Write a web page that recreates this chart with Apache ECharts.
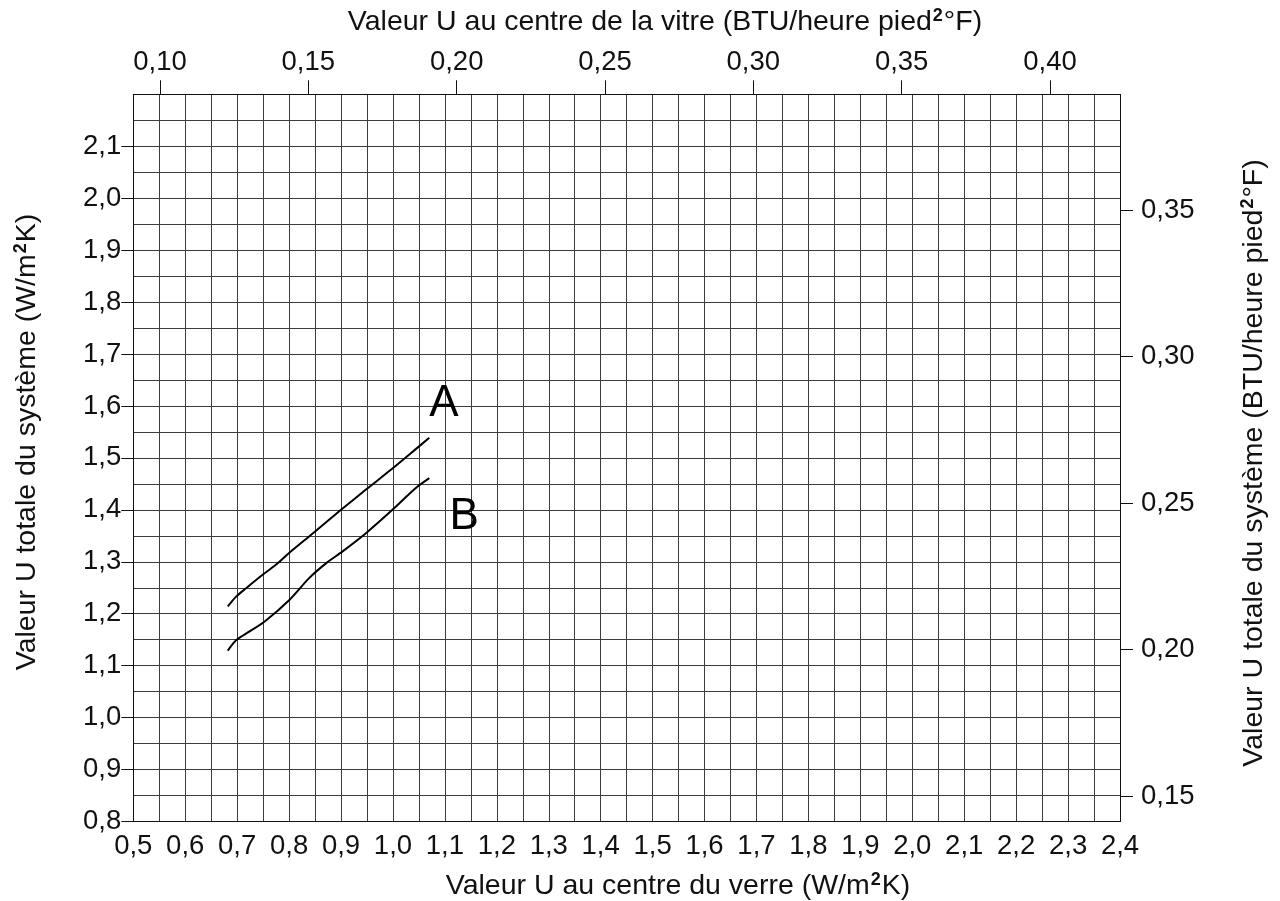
<!DOCTYPE html>
<html>
<head>
<meta charset="utf-8">
<script src="https://cdn.jsdelivr.net/npm/echarts@6/dist/echarts.min.js"></script>
<style>
  html, body { margin: 0; padding: 0; background: #fff; }
  #chart { width: 1280px; height: 901px; }
</style>
</head>
<body>
<div id="chart"></div>
<script>
// centre-of-glass U (W/m²K) vs total system U (W/m²K)
const curveA = [
  [0.682, 1.214], [0.698, 1.233], [0.717, 1.249], [0.749, 1.275],
  [0.778, 1.297], [0.801, 1.318], [0.846, 1.355], [0.900, 1.400],
  [0.948, 1.439], [0.996, 1.477], [1.031, 1.506], [1.070, 1.539],
]
const curveB = [
  [0.682, 1.129], [0.698, 1.149], [0.724, 1.166], [0.753, 1.185],
  [0.801, 1.227], [0.839, 1.269], [0.871, 1.297], [0.903, 1.320],
  [0.948, 1.355], [0.999, 1.400], [1.044, 1.442], [1.070, 1.461],
]
const curveLabels = [
  { name: 'A', value: [1.098, 1.605] },
  { name: 'B', value: [1.137, 1.387] },
]

// secondary scales in BTU/heure pied²°F
const topTicks = [0.10, 0.15, 0.20, 0.25, 0.30, 0.35, 0.40]
const rightTicks = [0.15, 0.20, 0.25, 0.30, 0.35]

const FONT = '"Liberation Sans", Arial, sans-serif'
const INK = '#111'
const GRID = '#3c3c3c'
const LABEL_SIZE = 27.5
const comma = d => v => v.toFixed(d).replace('.', ',')

const chart = echarts.init(document.getElementById('chart'), null, { renderer: 'canvas' })

const sup = { fontSize: 18, fontWeight: 'bold', fontFamily: FONT, fill: INK, verticalAlign: 'top', padding: [0, 1, 0, 1] }
const titleStyle = (text) => ({
  text, fill: INK, fontSize: 28.5, fontFamily: FONT,
  align: 'center', verticalAlign: 'middle',
  rich: { s: sup },
})

chart.setOption({
  animation: false,
  textStyle: { fontFamily: FONT },
  grid: { left: 133.3, top: 94.3, right: 160, bottom: 79.5, containLabel: false },
  xAxis: [
    {
      type: 'value', position: 'bottom',
      min: 0.5, max: 2.4, interval: 0.1,
      axisLine: { show: true, lineStyle: { color: INK, width: 1 } },
      axisTick: { show: false },
      axisLabel: { fontSize: LABEL_SIZE, color: INK, margin: 11, formatter: comma(1) },
      splitLine: { show: true, lineStyle: { color: GRID, width: 1 } },
      minorTick: { show: false, splitNumber: 2 },
      minorSplitLine: { show: true, lineStyle: { color: GRID, width: 1 } },
    },
    {
      type: 'value', position: 'top',
      min: 0.0910, max: 0.4236,
      axisLine: { show: true, lineStyle: { color: INK, width: 1 } },
      axisTick: { show: true, customValues: topTicks, length: 14, lineStyle: { color: INK } },
      axisLabel: { customValues: topTicks, fontSize: LABEL_SIZE, color: INK, margin: 18, formatter: comma(2) },
      splitLine: { show: false },
    },
  ],
  yAxis: [
    {
      type: 'value', position: 'left',
      min: 0.8, max: 2.2, interval: 0.1,
      axisLine: { show: true, lineStyle: { color: INK, width: 1 } },
      axisTick: { show: true, length: 12, lineStyle: { color: INK } },
      axisLabel: { fontSize: LABEL_SIZE, color: INK, margin: 12, showMaxLabel: false, formatter: comma(1) },
      splitLine: { show: true, lineStyle: { color: GRID, width: 1 } },
      minorTick: { show: false, splitNumber: 2 },
      minorSplitLine: { show: true, lineStyle: { color: GRID, width: 1 } },
    },
    {
      type: 'value', position: 'right',
      min: 0.1414, max: 0.3895,
      axisLine: { show: true, lineStyle: { color: INK, width: 1 } },
      axisTick: { show: true, customValues: rightTicks, length: 13, lineStyle: { color: INK } },
      axisLabel: { customValues: rightTicks, fontSize: LABEL_SIZE, color: INK, margin: 21, formatter: comma(2) },
      splitLine: { show: false },
    },
  ],
  series: [
    {
      name: 'A', type: 'line', data: curveA, smooth: 0.3,
      showSymbol: false, lineStyle: { color: '#000', width: 2 },
    },
    {
      name: 'B', type: 'line', data: curveB, smooth: 0.3,
      showSymbol: false, lineStyle: { color: '#000', width: 2 },
    },
    {
      type: 'scatter', data: curveLabels, symbolSize: 0,
      itemStyle: { opacity: 1, color: '#000' },
      label: {
        show: true, position: 'inside', formatter: '{b}', fontSize: 44,
        color: '#000', opacity: 1, textBorderWidth: 0, fontFamily: FONT,
      },
    },
  ],
  graphic: [
    { type: 'text', x: 665, y: 22, style: titleStyle('Valeur U au centre de la vitre (BTU/heure pied{s|2}°F)') },
    { type: 'text', x: 678, y: 886, style: titleStyle('Valeur U au centre du verre (W/m{s|2}K)') },
    { type: 'text', x: 27, y: 442, rotation: Math.PI / 2, style: titleStyle('Valeur U totale du système (W/m{s|2}K)') },
    { type: 'text', x: 1254, y: 463, rotation: Math.PI / 2, style: titleStyle('Valeur U totale du système (BTU/heure pied{s|2}°F)') },
  ],
})
</script>
</body>
</html>
